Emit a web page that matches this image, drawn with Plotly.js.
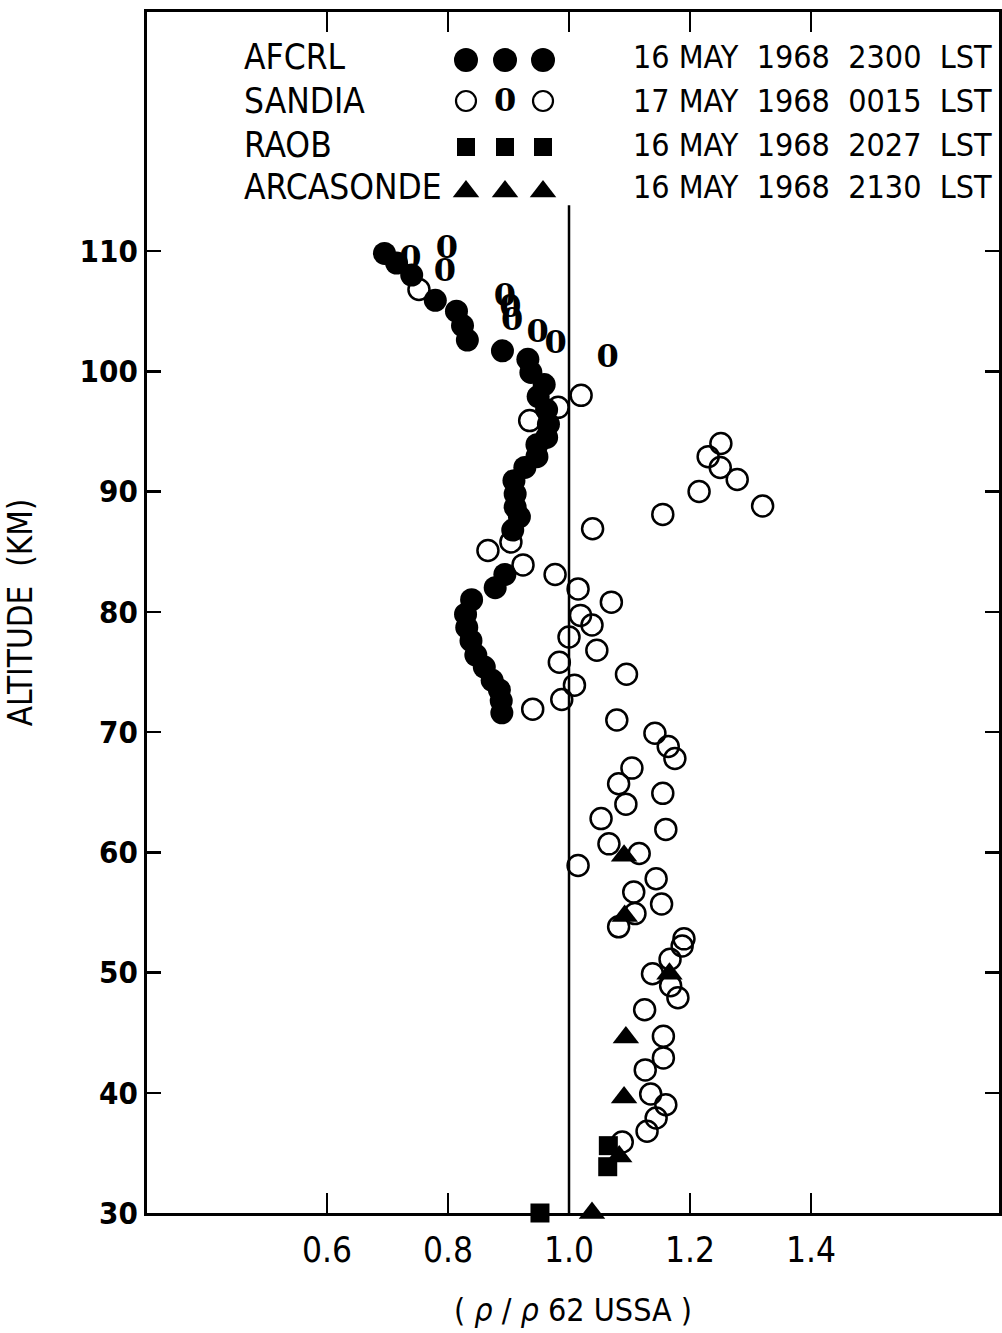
<!DOCTYPE html>
<html><head><meta charset="utf-8">
<script src="https://cdn.plot.ly/plotly-3.0.1.min.js"></script>
<style>body{margin:0;background:#fff}#chart{width:1002px;height:1333px}</style>
</head><body><div id="chart"></div>
<script>
// ---- data (rho / rho 62 USSA vs altitude km) ----
var afcrlX = [0.695,0.715,0.740,0.779,0.814,0.824,0.832,0.890,0.932,0.937,0.959,0.949,0.963,0.966,0.963,0.947,0.947,0.927,0.909,0.911,0.911,0.918,0.907,0.894,0.878,0.839,0.829,0.831,0.838,0.846,0.860,0.873,0.885,0.888,0.889];
var afcrlAlt = [109.8,109.0,108.0,105.9,105.0,103.8,102.6,101.7,101.0,99.9,98.9,97.9,96.8,95.6,94.5,93.9,92.9,92.0,90.9,89.8,88.7,87.9,86.8,83.1,82.0,81.0,79.8,78.7,77.6,76.4,75.4,74.3,73.5,72.6,71.6];

var sandiaX = [0.752,1.020,0.982,0.935,1.251,1.230,1.250,1.278,1.215,1.320,1.155,1.039,0.866,0.904,0.924,0.977,1.015,1.070,1.019,1.038,1.000,1.046,0.984,1.095,1.009,0.988,0.940,1.079,1.142,1.164,1.175,1.104,1.082,1.155,1.094,1.053,1.160,1.066,1.116,1.015,1.144,1.107,1.153,1.109,1.082,1.190,1.187,1.167,1.138,1.168,1.180,1.125,1.156,1.156,1.126,1.135,1.160,1.144,1.129,1.088];
var sandiaAlt = [106.8,98.0,97.0,95.9,94.0,92.9,92.0,91.0,90.0,88.8,88.1,86.9,85.1,85.8,83.9,83.1,81.9,80.8,79.7,78.9,77.9,76.8,75.8,74.8,73.9,72.7,71.9,71.0,69.9,68.8,67.8,67.0,65.7,64.9,64.0,62.8,61.9,60.7,59.9,58.9,57.8,56.7,55.7,54.9,53.8,52.8,52.2,51.1,49.9,48.9,47.9,46.9,44.7,42.9,41.9,39.9,39.0,37.9,36.8,35.9];

var sandia0X = [0.738,0.798,0.795,0.894,0.903,0.906,0.948,0.978,1.064];
var sandia0Alt = [109.25,110.1,108.2,106.1,105.15,104.1,103.1,102.2,101.0];

var raobX = [0.952,1.064,1.065];
var raobAlt = [30.0,33.85,35.6];

var arcX = [1.091,1.092,1.166,1.094,1.091,1.083,1.038];
var arcAlt = [59.7,54.7,49.9,44.6,39.6,34.7,30.0];

var refX = [1.0,1.0];
var refAlt = [30,113.8];

var xTickVals = [0.6,0.8,1.0,1.2,1.4];
var xTickText = ['0.6','0.8','1.0','1.2','1.4'];
var yTickVals = [30,40,50,60,70,80,90,100,110];
var yTickText = ['30','40','50','60','70','80','90','100','110'];

var legendLabels = ['AFCRL','SANDIA','RAOB','ARCASONDE'];
var legendDates = ['16 MAY  1968  2300  LST','17 MAY  1968  0015  LST','16 MAY  1968  2027  LST','16 MAY  1968  2130  LST'];

// ---- layout helpers (legend placement in plot fractions) ----
var legRowY = [0.9600,0.9259,0.8876,0.8526];
var legTextY = [0.9625,0.9262,0.8895,0.8545];
var legSymX = [0.3744,0.4202,0.4648];
var legLabelX = 0.112;
var legDateX = 0.568;

var narrow = "'DejaVu Sans Condensed','Liberation Sans',sans-serif";

function rep(v,n){var a=[];for(var i=0;i<n;i++)a.push(v);return a;}

var traces = [];
traces.push({x:refX,y:refAlt,mode:'lines',line:{color:'black',width:2.5},hoverinfo:'skip'});
traces.push({x:sandiaX,y:sandiaAlt,mode:'markers',marker:{symbol:'circle-open',size:21,color:'black',line:{width:2.5,color:'black'}},name:'SANDIA'});
traces.push({x:sandia0X,y:sandia0Alt,mode:'text',text:rep('0',sandia0X.length),textposition:'middle center',textfont:{family:'DejaVu Serif',size:32,weight:'bold',color:'black'},name:'SANDIA'});
traces.push({x:afcrlX,y:afcrlAlt,mode:'markers',marker:{symbol:'circle',size:23,color:'black'},name:'AFCRL'});
traces.push({x:raobX,y:raobAlt,mode:'markers',marker:{symbol:'square',size:19,color:'black'},cliponaxis:false,name:'RAOB'});
traces.push({x:arcX,y:arcAlt,mode:'markers',marker:{symbol:'triangle-up',size:23,color:'black'},cliponaxis:false,name:'ARCASONDE'});

// legend symbols
traces.push({x:legSymX,y:rep(legRowY[0],3),xaxis:'x2',yaxis:'y2',mode:'markers',marker:{symbol:'circle',size:24,color:'black'},hoverinfo:'skip',cliponaxis:false});
traces.push({x:[legSymX[0],legSymX[2]],y:rep(legRowY[1],2),xaxis:'x2',yaxis:'y2',mode:'markers',marker:{symbol:'circle-open',size:20,color:'black',line:{width:2.2,color:'black'}},hoverinfo:'skip',cliponaxis:false});
traces.push({x:[legSymX[1]],y:[legRowY[1]-0.002],xaxis:'x2',yaxis:'y2',mode:'text',text:['0'],textposition:'middle center',textfont:{family:'DejaVu Serif',size:32,weight:'bold',color:'black'},hoverinfo:'skip',cliponaxis:false});
traces.push({x:legSymX,y:rep(legRowY[2],3),xaxis:'x2',yaxis:'y2',mode:'markers',marker:{symbol:'square',size:18,color:'black'},hoverinfo:'skip',cliponaxis:false});
traces.push({x:legSymX,y:rep(legRowY[3]-0.002,3),xaxis:'x2',yaxis:'y2',mode:'markers',marker:{symbol:'triangle-up',size:23,color:'black'},hoverinfo:'skip',cliponaxis:false});

var annotations = [];
for (var i=0;i<legendLabels.length;i++){
  annotations.push({xref:'paper',yref:'paper',x:legLabelX,y:legTextY[i],xanchor:'left',yanchor:'middle',text:legendLabels[i],showarrow:false,font:{family:narrow,size:35,color:'black'}});
  annotations.push({xref:'paper',yref:'paper',x:legDateX,y:legTextY[i],xanchor:'left',yanchor:'middle',text:legendDates[i],showarrow:false,font:{family:narrow,size:32,color:'black'}});
}

var layout = {
  width:1002,height:1333,
  margin:{l:147,r:3,t:12,b:120},
  paper_bgcolor:'white',plot_bgcolor:'white',
  showlegend:false,
  xaxis:{range:[0.3025,1.7107],tickvals:xTickVals,ticktext:xTickText,ticks:'inside',ticklen:20,tickwidth:2.5,tickcolor:'black',
    showline:true,linewidth:3,linecolor:'black',mirror:'ticks',showgrid:false,zeroline:false,
    tickfont:{family:narrow,size:35,color:'black'},ticklabelstandoff:4,
    title:{text:'( <i>ρ</i> / <i>ρ</i> 62 USSA )',font:{family:narrow,size:32,color:'black'},standoff:30}},
  yaxis:{range:[30,129.88],tickvals:yTickVals,ticktext:yTickText,ticks:'inside',ticklen:14,tickwidth:2.5,tickcolor:'black',
    showline:true,linewidth:3,linecolor:'black',mirror:'ticks',showgrid:false,zeroline:false,
    tickfont:{family:narrow,size:31,weight:'bold',color:'black'},ticklabelstandoff:0,
    title:{text:'ALTITUDE  (KM)',font:{family:narrow,size:33,color:'black'},standoff:38}},
  xaxis2:{overlaying:'x',range:[0,1],visible:false},
  yaxis2:{overlaying:'y',range:[0,1],visible:false},
  annotations:annotations
};

Plotly.newPlot('chart',traces,layout,{displayModeBar:false,staticPlot:true});
</script></body></html>
